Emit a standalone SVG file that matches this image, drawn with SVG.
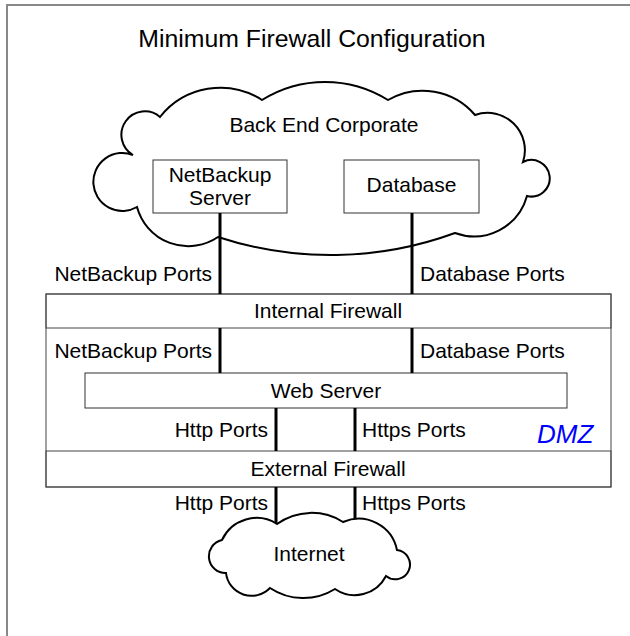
<svg xmlns="http://www.w3.org/2000/svg" width="630" height="636" viewBox="0 0 630 636">
<style>
text{font-family:"Liberation Sans",Arial,sans-serif;font-size:21px;fill:#000}
.c{text-anchor:middle}
.e{text-anchor:end}
.cloud{fill:#fff;stroke:#000;stroke-width:2}
.box{fill:#fff;stroke:#333;stroke-width:1}
.wire{stroke:#000;stroke-width:3;fill:none}
</style>
<rect x="0" y="0" width="630" height="636" fill="#fff"/>
<path d="M7 636 V5 H630" fill="none" stroke="#888" stroke-width="2"/>
<text id="title" x="312" y="47" class="c" style="font-size:24.8px">Minimum Firewall Configuration</text>
<g id="backend">
<path class="cloud" d="M133 155 A23.4 23.4 0 1 1 160 117 A77 77 0 0 1 262 100 A119 119 0 0 1 388 100 A69 69 0 0 1 475 115 A37.4 37.4 0 0 1 523 162 A18.3 18.3 0 1 1 527 196 A55 55 0 0 1 455 233 A361 361 0 0 1 218 237 A53 53 0 0 1 137 207 A29 29 0 1 1 133 155 Z"/>
<text x="324" y="132" class="c">Back End Corporate</text>
</g>
<g id="netbackup">
<rect class="box" x="153" y="160" width="134" height="53"/>
<text x="220" y="182" class="c">NetBackup</text>
<text x="220" y="205" class="c">Server</text>
</g>
<g id="database">
<rect class="box" x="344" y="160" width="135" height="53"/>
<text x="411.5" y="192" class="c">Database</text>
</g>
<g id="dmz">
<rect x="46" y="294" width="565" height="193" fill="#fff" stroke="#444" stroke-width="1"/>
<text x="537" y="443" style="font-size:26px;font-style:italic;fill:#0000ff">DMZ</text>
</g>
<g id="internal-firewall">
<rect x="46" y="294" width="565" height="34" fill="none" stroke="#444" stroke-width="1"/>
<text x="328" y="318" class="c">Internal Firewall</text>
</g>
<g id="webserver">
<rect class="box" x="85" y="373" width="482" height="35"/>
<text x="326" y="398" class="c">Web Server</text>
</g>
<g id="external-firewall">
<rect x="46" y="451" width="565" height="36" fill="none" stroke="#444" stroke-width="1"/>
<text x="328" y="476" class="c">External Firewall</text>
</g>
<g id="connectors">
<path class="wire" d="M220 213 V294 M412 213 V294 M220 328 V373 M412 328 V373 M276 408 V451 M355 408 V451 M276 487 V524 M355 487 V520"/>
<text x="212" y="281" class="e">NetBackup Ports</text>
<text x="420" y="281">Database Ports</text>
<text x="212" y="358" class="e">NetBackup Ports</text>
<text x="420" y="358">Database Ports</text>
<text x="268" y="437" class="e">Http Ports</text>
<text x="362" y="437">Https Ports</text>
<text x="268" y="510" class="e">Http Ports</text>
<text x="362" y="510">Https Ports</text>
</g>
<g id="internet">
<path class="cloud" d="M222 540 A38 38 0 0 1 277 524 A59 59 0 0 1 343 522 A39 39 0 0 1 397 550 A14.7 14.7 0 1 1 386 576 A35 35 0 0 1 335 589 A60 60 0 0 1 270 588 A25.7 25.7 0 0 1 226 573 A16.7 16.7 0 0 1 222 540 Z"/>
<text x="309" y="561" class="c">Internet</text>
</g>
</svg>
